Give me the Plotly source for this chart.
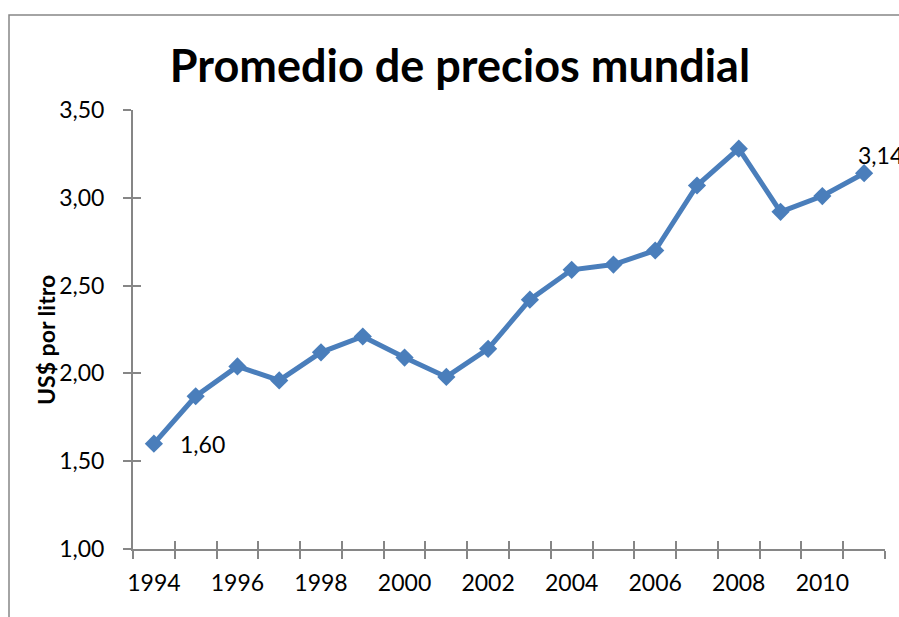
import plotly.graph_objects as go

years = list(range(1994, 2012))
prices = [1.60, 1.87, 2.04, 1.96, 2.12, 2.21, 2.09, 1.98, 2.14, 2.42,
          2.59, 2.62, 2.70, 3.07, 3.28, 2.92, 3.01, 3.14]
tick_years = list(range(1994, 2011, 2))
y_ticks = [1.0, 1.5, 2.0, 2.5, 3.0, 3.5]
title_text = "Promedio de precios mundial"
y_title = "US$ por litro"

FONT = "Lato"
LINE_C = "#4A7EBB"
AX_C = "#868686"

boundaries = [y - 0.5 for y in years] + [years[-1] + 0.5]

fig = go.Figure()
fig.add_trace(go.Scatter(
    x=years, y=prices, mode="lines+markers",
    line=dict(color=LINE_C, width=5),
    marker=dict(symbol="diamond", size=14, color=LINE_C),
    showlegend=False, hoverinfo="x+y", cliponaxis=False,
))
# invisible trace to activate overlay axes (inside tick marks)
fig.add_trace(go.Scatter(
    x=years, y=prices, mode="lines", xaxis="x2", yaxis="y2",
    line=dict(width=0), opacity=0, showlegend=False, hoverinfo="skip",
))

fmt = lambda v: f"{v:.2f}".replace(".", ",")
fig.add_annotation(x=years[0], y=prices[0], text=fmt(prices[0]), showarrow=False,
                   xanchor="left", yanchor="middle", xshift=24, yshift=0,
                   font=dict(family=FONT, size=23, color="black"))
fig.add_annotation(x=years[-1], y=prices[-1], text=fmt(prices[-1]), showarrow=False,
                   xanchor="left", yanchor="middle", xshift=-8, yshift=18,
                   font=dict(family=FONT, size=23, color="black"))

rng_x = [years[0] - 0.5, years[-1] + 0.5]
rng_y = [y_ticks[0], y_ticks[-1]]

W, H = 899, 617
L, R, T, B = 133, 14, 110, 68
pw, ph = W - L - R, H - T - B

# y-axis title as rotated annotation
fig.add_annotation(text="<b>" + y_title + "</b>", xref="paper", yref="paper",
                   x=(46 - L) / pw, y=(T + ph - 340) / ph, xanchor="center", yanchor="middle",
                   textangle=-90, showarrow=False,
                   font=dict(family=FONT, size=23, color="black"))

fig.update_layout(
    width=W, height=H,
    margin=dict(l=L, r=R, t=T, b=B),
    paper_bgcolor="white", plot_bgcolor="white",
    separators=",.",
    title=dict(text="<b>" + title_text + "</b>", x=(460 - L) / pw, xref="paper", xanchor="center",
               y=1 - 66 / H, yref="container", yanchor="middle",
               font=dict(family=FONT, size=45, color="black")),
    xaxis=dict(range=rng_x, tickmode="array", tickvals=tick_years,
               ticktext=[str(t) for t in tick_years], ticks="",
               showline=True, linecolor=AX_C, linewidth=2, showgrid=False, zeroline=False,
               tickfont=dict(family=FONT, size=23, color="black"),
               ticklabelstandoff=12,
               minor=dict(tickmode="array", tickvals=boundaries, ticks="outside",
                          ticklen=8, tickwidth=2, tickcolor=AX_C, showgrid=False)),
    yaxis=dict(range=rng_y, tickmode="array", tickvals=y_ticks, tickformat=".2f",
               ticks="outside", ticklen=8, tickwidth=2, tickcolor=AX_C,
               showline=True, linecolor=AX_C, linewidth=2, showgrid=False, zeroline=False,
               tickfont=dict(family=FONT, size=23, color="black"),
               ticklabelstandoff=14),
    xaxis2=dict(range=rng_x, overlaying="x", anchor="y2", side="bottom",
                tickmode="array", tickvals=boundaries, ticks="inside", ticklen=8,
                tickwidth=2, tickcolor=AX_C, showticklabels=False, showgrid=False,
                zeroline=False, showline=False),
    yaxis2=dict(range=rng_y, overlaying="y", anchor="x2", side="left",
                tickmode="array", tickvals=y_ticks, ticks="inside", ticklen=8,
                tickwidth=2, tickcolor=AX_C, showticklabels=False, showgrid=False,
                zeroline=False, showline=False),
    shapes=[dict(type="path", xref="paper", yref="paper",
                 path=f"M {(9 - L) / pw},-0.3 L {(9 - L) / pw},{(ph + T - 15) / ph} L 1.1,{(ph + T - 15) / ph}",
                 line=dict(color=AX_C, width=1.5), layer="below")],
)

fig.write_html("out.html", config={"displayModeBar": False},
               post_script="document.body.style.margin='0';document.body.style.overflow='hidden';")
